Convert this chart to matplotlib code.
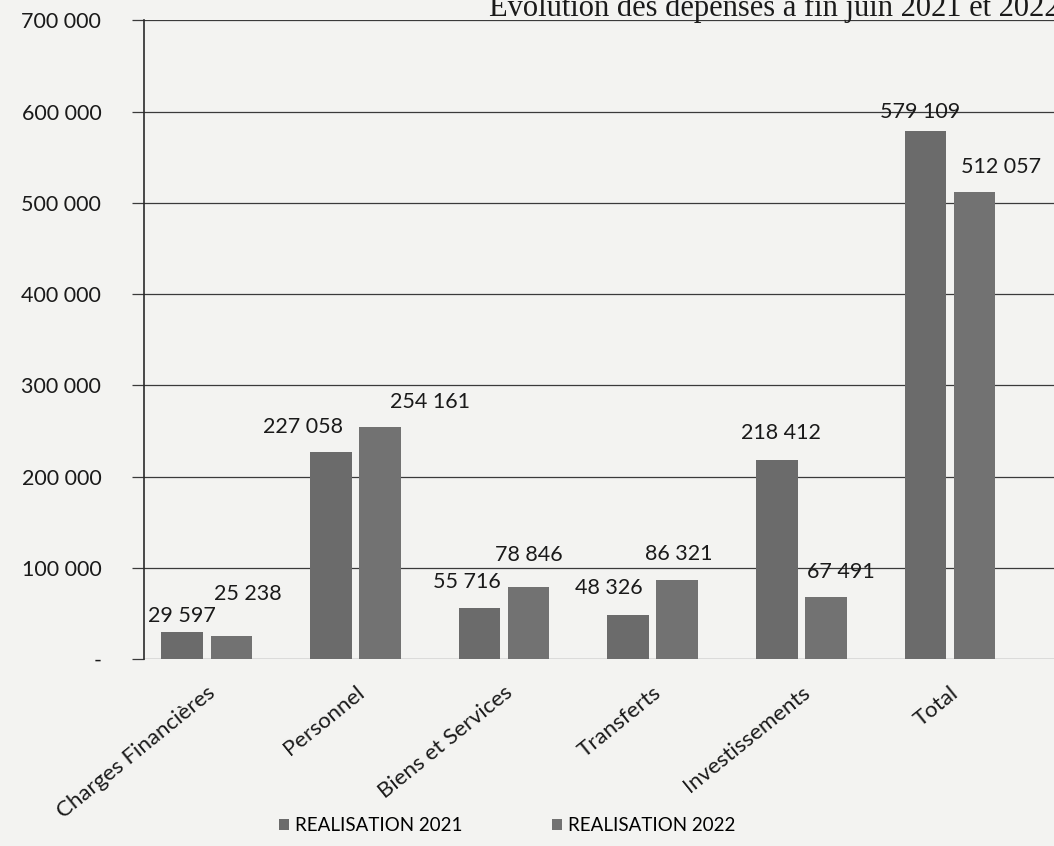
import matplotlib
matplotlib.use("Agg")
import matplotlib.pyplot as plt
import numpy as np
from matplotlib.ticker import FuncFormatter

# ---------------------------------------------------------------------------
# Data
# ---------------------------------------------------------------------------
categories = ["Charges Financières", "Personnel", "Biens et Services",
              "Transferts", "Investissements", "Total"]
real_2021 = [29597, 227058, 55716, 48326, 218412, 579109]
real_2022 = [25238, 254161, 78846, 86321, 67491, 512057]
series_names = ["REALISATION 2021", "REALISATION 2022"]
y_ticks = [0, 100000, 200000, 300000, 400000, 500000, 600000, 700000]

# label offsets (points) from the top centre of each bar, as they were
# dragged by hand in the original
label_offsets_2021 = [(0, 4), (-20, 11), (-9, 12), (-14, 12), (3, 12), (-4, 6)]
label_offsets_2022 = [(12, 23), (36, 11), (0, 16), (1, 12), (11, 11), (19, 11)]

plt.rcParams["font.family"] = ["Lato", "DejaVu Sans"]

BG = "#f3f3f1"
BAR_2021 = "#6b6b6b"
BAR_2022 = "#727272"
TXT = "#1a1a1a"


def fr_number(v):
    """700000 -> '700 000', 0 -> '-'."""
    if v == 0:
        return "-"
    return f"{int(round(v)):,}".replace(",", " ")


fig = plt.figure(figsize=(10.54, 8.46), dpi=100, facecolor=BG)
ax = fig.add_axes([0.137, 0.221, 0.863, 0.755], facecolor=BG)

x = np.arange(len(categories))
width = 0.28
offset = 0.165

b1 = ax.bar(x - offset, real_2021, width, color=BAR_2021, label=series_names[0], zorder=3)
b2 = ax.bar(x + offset, real_2022, width, color=BAR_2022, label=series_names[1], zorder=3)

for bars, offs in ((b1, label_offsets_2021), (b2, label_offsets_2022)):
    for rect, (dx, dy) in zip(bars, offs):
        h = rect.get_height()
        ax.annotate(fr_number(h), (rect.get_x() + rect.get_width() / 2, h),
                    xytext=(dx, dy), textcoords="offset points",
                    ha="center", va="bottom", fontsize=15.5, color=TXT)

ax.set_xlim(-0.42, 5.7)
ax.set_ylim(0, 700000)
ax.set_yticks(y_ticks)
ax.yaxis.set_major_formatter(FuncFormatter(lambda v, _: fr_number(v)))
ax.tick_params(axis="y", length=9, width=0.9, color="#3a3a3a", direction="out",
               labelsize=15.5, pad=22, labelcolor=TXT)
ax.yaxis.grid(True, color="#3a3a3a", linewidth=0.9, zorder=1)
ax.set_axisbelow(True)

ax.set_xticks(x)
ax.set_xticklabels(categories, rotation=39, ha="right", rotation_mode="anchor",
                   fontsize=16, color=TXT)
ax.tick_params(axis="x", length=0, pad=17)

for side in ("top", "right", "bottom"):
    ax.spines[side].set_visible(False)
ax.spines["left"].set_color("#2a2a2a")
ax.spines["left"].set_linewidth(1.2)

# title, mostly cut off at the top of the scan
fig.text(1.005, 0.981, "Evolution des dépenses à fin juin 2021 et 2022", ha="right",
         va="baseline", fontsize=22, family=["Liberation Serif"], color=TXT)

fig.legend(handles=[b1, b2], labels=series_names, loc="center",
           bbox_to_anchor=(0.481, 0.024), ncol=2, frameon=False,
           fontsize=13.5, handlelength=0.55, handleheight=0.55,
           handletextpad=0.3, columnspacing=4.8)

fig.savefig("out.png", dpi=100, facecolor=BG)
